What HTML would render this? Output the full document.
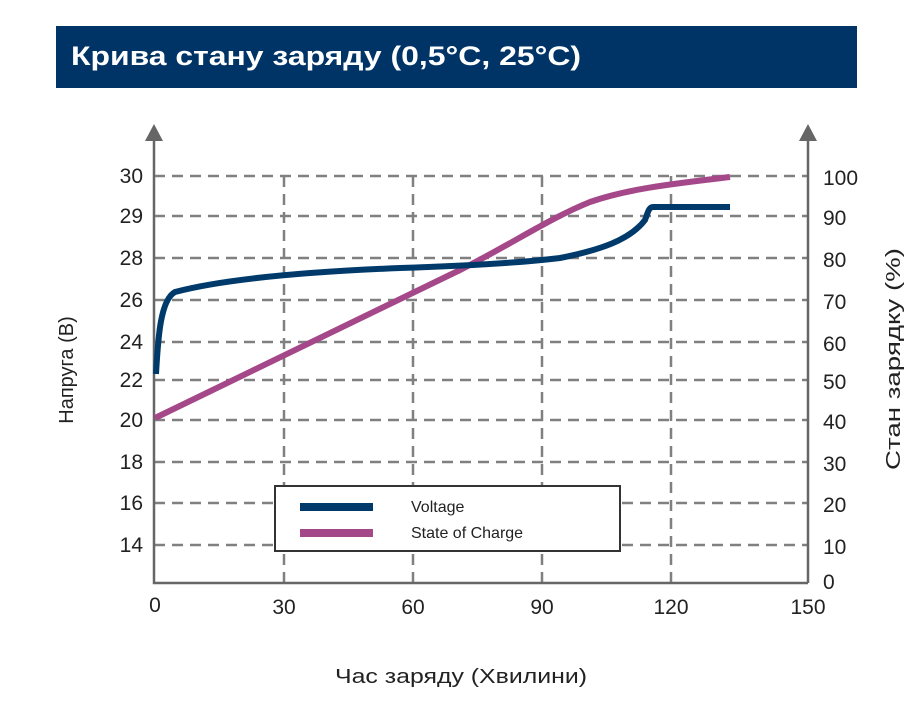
<!DOCTYPE html>
<html><head><meta charset="utf-8"><style>
body{margin:0;background:#fff;width:921px;height:706px;overflow:hidden;font-family:"Liberation Sans",sans-serif}
</style></head><body>
<svg width="921" height="706" xmlns="http://www.w3.org/2000/svg" font-family="Liberation Sans, sans-serif">
<rect x="56" y="26" width="801" height="62" fill="#003366"/>
<text x="71" y="65" font-size="27" font-weight="bold" fill="#fff" textLength="510" lengthAdjust="spacingAndGlyphs">Крива стану заряду (0,5°C, 25°C)</text>
<g stroke="#808080" stroke-width="2.5" stroke-dasharray="11,7" fill="none">
<path d="M154 176H808M154 216H808M154 258H808M154 300H808M154 342H808M154 380H808M154 420H808M154 462H808M154 503H808M154 545H808"/>
<path d="M284 176V583M413 176V583M542 176V583M671 176V583"/>
</g>
<g stroke="#666" stroke-width="2.5" fill="none"><path d="M154 140V583H808M808 583V140"/></g>
<polygon points="154,124 145,141 163,141" fill="#666"/>
<polygon points="808,124 799,141 817,141" fill="#666"/>
<rect x="275" y="486" width="345" height="65" fill="#fff" stroke="#333" stroke-width="2"/>
<path d="M300 507H373" stroke="#003a6b" stroke-width="8"/>
<path d="M300 533H373" stroke="#a5488a" stroke-width="8"/>
<text x="411" y="512" font-size="16" fill="#222">Voltage</text>
<text x="411" y="538" font-size="16" fill="#222">State of Charge</text>
<path d="M155 418 L460 270 C510 245 550 218 590 202 C630 188 680 183 730 177" stroke="#a5488a" stroke-width="6" fill="none"/>
<path d="M156 374 C158 340 160 300 175 292 C220 280 300 272 400 268 C460 266 520 263 560 258 C600 250 630 240 645 220 C648 212 649 207 653 207 H730" stroke="#003a6b" stroke-width="6" fill="none"/>
<g font-size="21" fill="#222" text-anchor="end">
<text x="143" y="183">30</text><text x="143" y="223">29</text><text x="143" y="265">28</text><text x="143" y="307">26</text><text x="143" y="349">24</text><text x="143" y="387">22</text><text x="143" y="427">20</text><text x="143" y="469">18</text><text x="143" y="510">16</text><text x="143" y="552">14</text>
</g>
<g font-size="21" fill="#222">
<text x="823" y="185">100</text><text x="823" y="225">90</text><text x="823" y="267">80</text><text x="823" y="309">70</text><text x="823" y="351">60</text><text x="823" y="389">50</text><text x="823" y="429">40</text><text x="823" y="471">30</text><text x="823" y="512">20</text><text x="823" y="554">10</text><text x="823" y="589">0</text>
</g>
<g font-size="21" fill="#222" text-anchor="middle">
<text x="155" y="612">0</text><text x="284" y="614">30</text><text x="413" y="614">60</text><text x="542" y="614">90</text><text x="671" y="614">120</text><text x="808" y="614">150</text>
</g>
<text x="335" y="683" font-size="20" fill="#222" textLength="252" lengthAdjust="spacingAndGlyphs">Час заряду (Хвилини)</text>
<text transform="translate(73,370) rotate(-90)" font-size="20" fill="#222" text-anchor="middle">Напруга (В)</text>
<text transform="translate(900,470) rotate(-90)" font-size="20" fill="#222" textLength="222" lengthAdjust="spacingAndGlyphs">Стан зарядку (%)</text>
</svg>
</body></html>
